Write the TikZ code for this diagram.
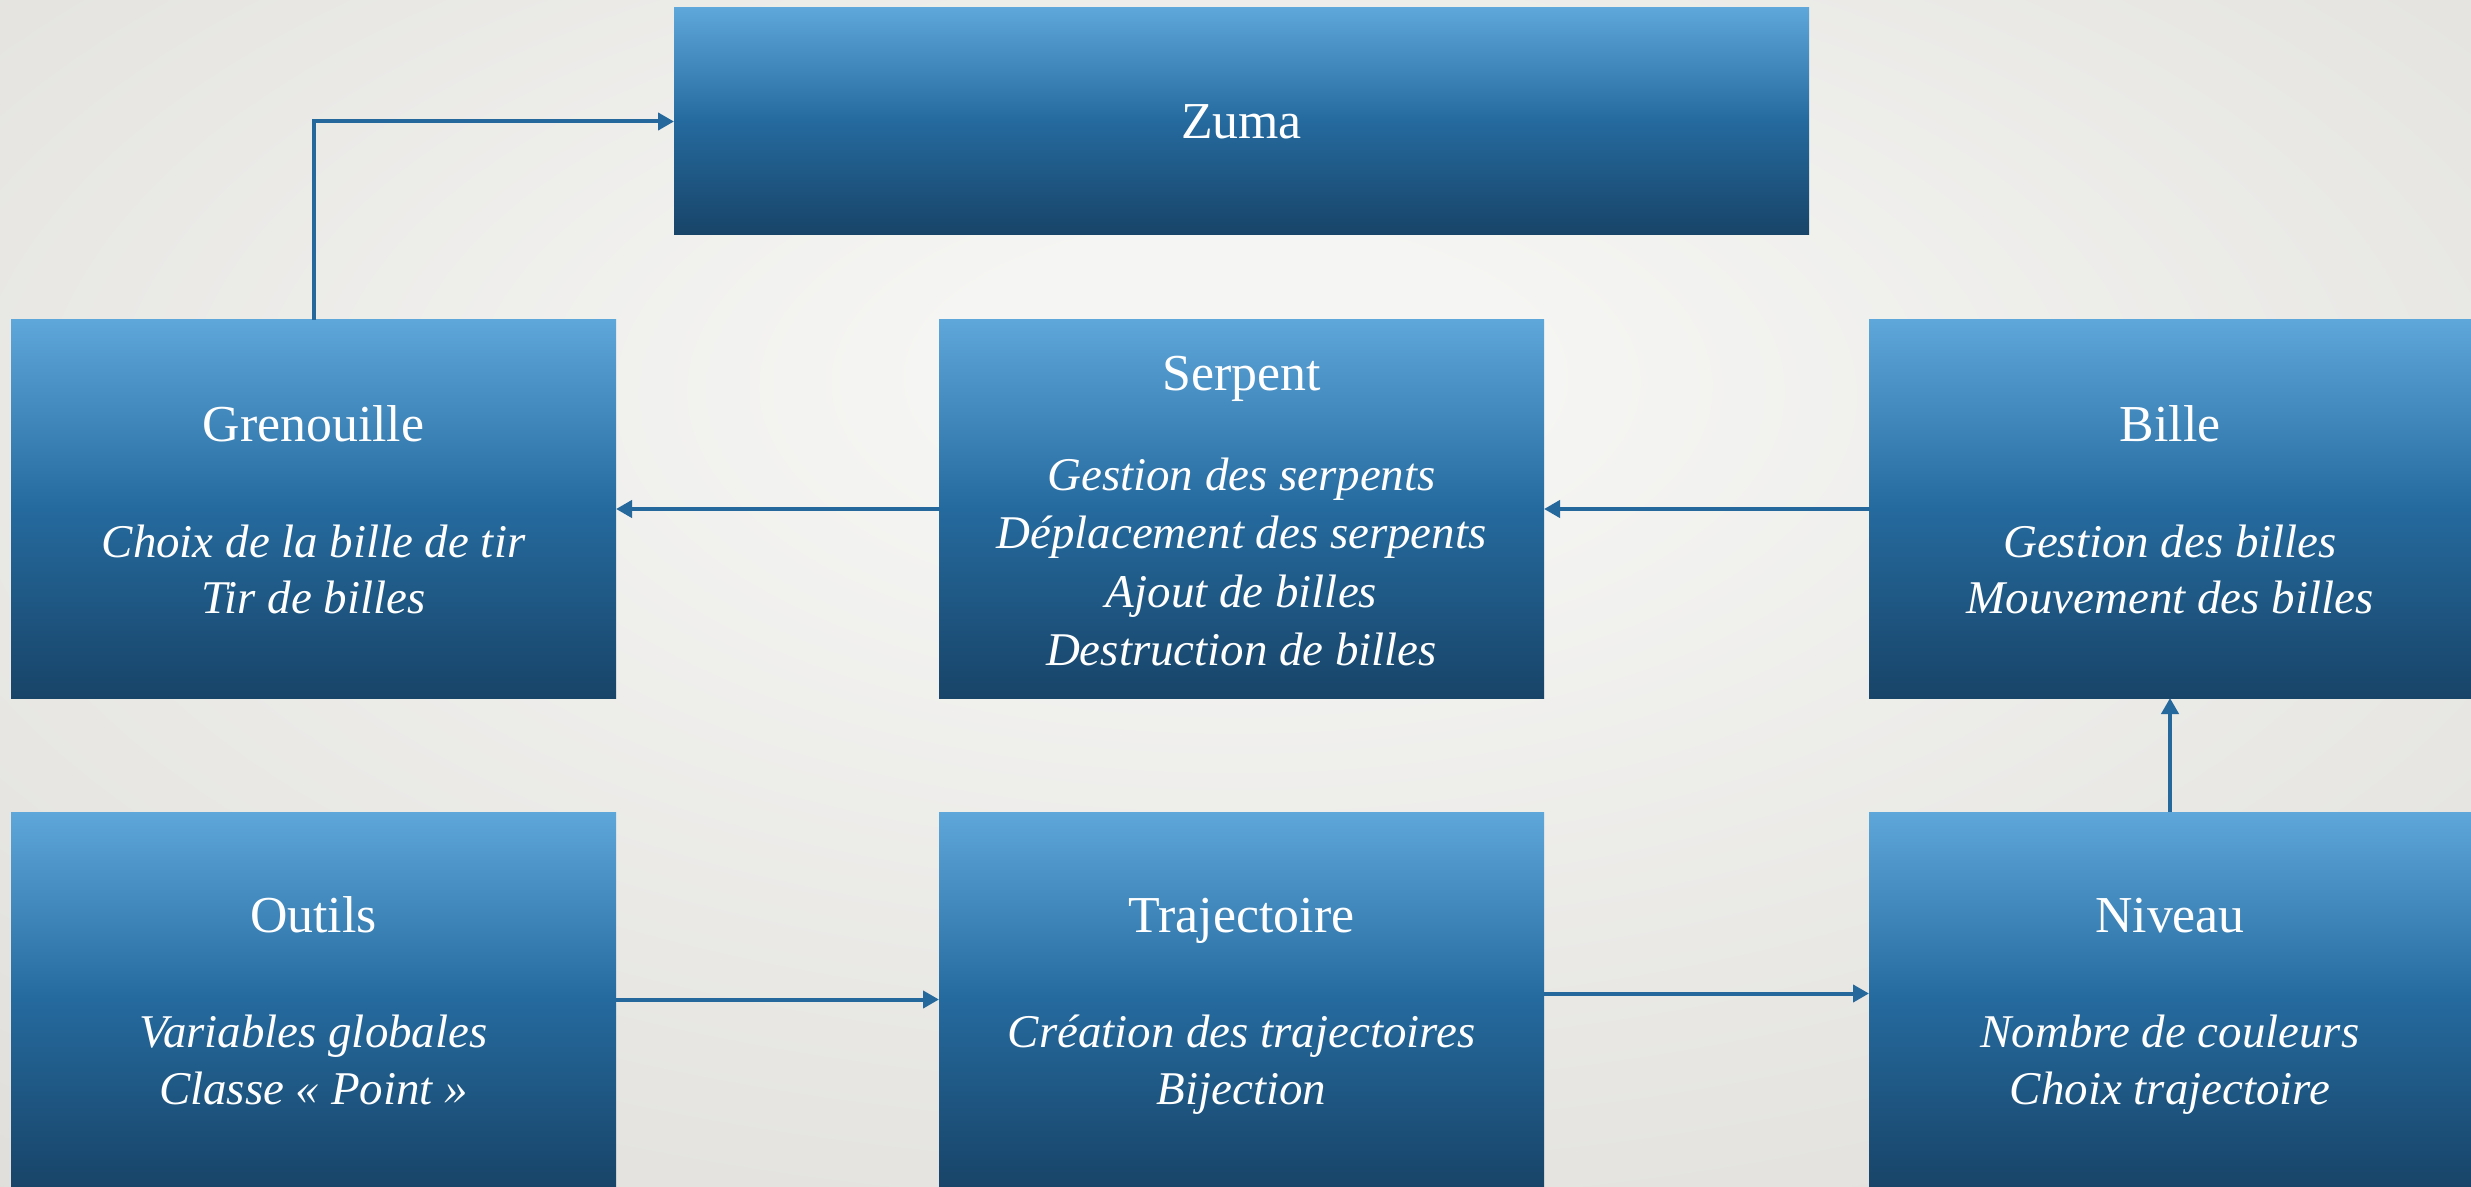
\documentclass[tikz,border=0pt]{standalone}
\usepackage{fontspec}
\setmainfont{Liberation Serif}
\usetikzlibrary{arrows.meta}
\definecolor{bgin}{RGB}{245,245,243}
\definecolor{bgout}{RGB}{210,208,203}
\definecolor{btop}{RGB}{94,167,219}
\definecolor{bmid}{RGB}{37,106,158}
\definecolor{bbot}{RGB}{24,68,104}
\definecolor{arrc}{RGB}{36,104,156}
\pgfdeclareradialshading{bgshade}{\pgfpoint{0bp}{10bp}}{color(0bp)=(bgin); color(6bp)=(bgin); color(60bp)=(bgout); color(75bp)=(bgout)}
\begin{document}
\begin{tikzpicture}[x=0.2mm,y=-0.2mm,
 box/.style={shade, top color=btop, bottom color=bbot, middle color=bmid, inner sep=0pt, outer sep=0pt, minimum width=121mm, minimum height=75.6mm, anchor=north west},
 ttl/.style={text=white, anchor=base, inner sep=0pt, font=\fontsize{29.5pt}{32pt}\selectfont},
 itl/.style={text=white, anchor=base, inner sep=0pt, font=\fontsize{26.7pt}{32pt}\selectfont\itshape},
 arr/.style={draw=arrc, line width=0.8mm, -{Triangle[length=3.2mm,width=3.4mm]}}]
\useasboundingbox (0,0) rectangle (2471,1187);
\shade[shading=bgshade] (0,0) rectangle (2471,1187);

\node[box, minimum width=227mm, minimum height=45.4mm] (zuma) at (674,8) {};
\node[box] (grenouille) at (11,320) {};
\node[box] (serpent) at (939,320) {};
\node[box, minimum width=120.4mm] (bille) at (1869,320) {};
\node[box, minimum height=75mm] (outils) at (11,812) {};
\node[box, minimum height=75mm] (trajectoire) at (939,812) {};
\node[box, minimum width=120.4mm, minimum height=75mm] (niveau) at (1869,812) {};

\node[ttl] (tz) at (1241.5,139) {Zuma};

\node[ttl] (tg) at (313.5,442) {Grenouille};
\node[itl] (g1) at (313.5,557) {Choix de la bille de tir};
\node[itl] (g2) at (313.5,614) {Tir de billes};

\node[ttl] (ts) at (1241.5,391) {Serpent};
\node[itl] (s1) at (1241.5,491) {Gestion des serpents};
\node[itl] (s2) at (1241.5,549) {Déplacement des serpents};
\node[itl] (s3) at (1241.5,607) {Ajout de billes};
\node[itl] (s4) at (1241.5,665) {Destruction de billes};

\node[ttl] (tb) at (2170,442) {Bille};
\node[itl] (b1) at (2170,557) {Gestion des billes};
\node[itl] (b2) at (2170,614) {Mouvement des billes};

\node[ttl] (to) at (313.5,932) {Outils};
\node[itl] (o1) at (313.5,1047) {Variables globales};
\node[itl] (o2) at (313.5,1104) {Classe «~Point~»};

\node[ttl] (tt) at (1241.5,932) {Trajectoire};
\node[itl] (t1) at (1241.5,1047) {Création des trajectoires};
\node[itl] (t2) at (1241.5,1104) {Bijection};

\node[ttl] (tn) at (2170,932) {Niveau};
\node[itl] (n1) at (2170,1047) {Nombre de couleurs};
\node[itl] (n2) at (2170,1104) {Choix trajectoire};

\draw[arr] (grenouille.north) |- (zuma.west);
\draw[arr] (serpent.west) -- (grenouille.east);
\draw[arr] (bille.west) -- (serpent.east);
\draw[arr] (outils.east) -- (trajectoire.west);
\draw[arr] ([yshift=1.2mm]trajectoire.east) -- ([yshift=1.2mm]niveau.west);
\draw[arr] (niveau.north) -- (bille.south);
\end{tikzpicture}
\end{document}
